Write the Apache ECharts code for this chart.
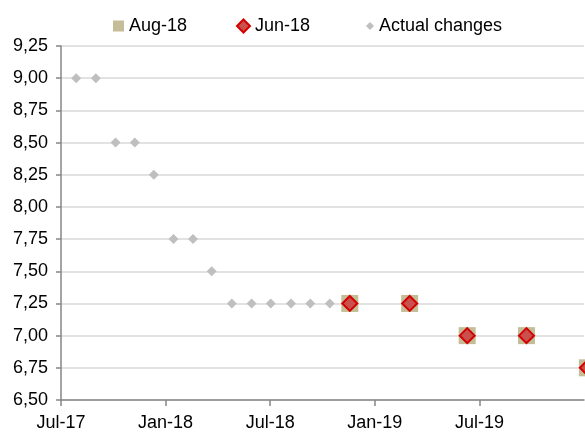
<!DOCTYPE html>
<html>
<head>
<meta charset="utf-8">
<script src="https://cdn.jsdelivr.net/npm/echarts@6/dist/echarts.min.js"></script>
<style>
  html, body { margin: 0; padding: 0; background: #fff; }
  #chart { width: 585px; height: 434px; }
</style>
</head>
<body>
<div id="chart"></div>
<script>
// actual key rate decisions
const actualDates = ['2017-07-28', '2017-09-01', '2017-10-05', '2017-11-08', '2017-12-11',
  '2018-01-15', '2018-02-17', '2018-03-21', '2018-04-25', '2018-05-30',
  '2018-07-02', '2018-08-07', '2018-09-10', '2018-10-14']
const actualValues = [9.00, 9.00, 8.50, 8.50, 8.25, 7.75, 7.75, 7.50, 7.25, 7.25, 7.25, 7.25, 7.25, 7.25]

// forecast points (both forecasts coincide)
const forecastDates = ['2018-11-18', '2019-03-01', '2019-06-10', '2019-09-22', '2020-01-07']
const aug18Values = [7.25, 7.25, 7.00, 7.00, 6.75]
const jun18Values = [7.25, 7.25, 7.00, 7.00, 6.75]

const monthNames = ['Jan', 'Feb', 'Mar', 'Apr', 'May', 'Jun', 'Jul', 'Aug', 'Sep', 'Oct', 'Nov', 'Dec']

// date string -> fractional month index (year * 12 + month)
function toMonth(s) {
  const [y, m, d] = s.split('-').map(Number)
  const days = new Date(y, m, 0).getDate()
  return y * 12 + (m - 1) + (d - 1) / days
}

function monthLabel(v) {
  const idx = Math.round(v)
  const y = Math.floor(idx / 12)
  const m = idx - y * 12
  return monthNames[m] + '-' + String(y % 100).padStart(2, '0')
}

const pairs = (dates, vals) => dates.map((d, i) => [toMonth(d), vals[i]])

const font = 'Liberation Sans, Arial, sans-serif'
const chart = echarts.init(document.getElementById('chart'))

chart.setOption({
  animation: false,
  textStyle: { fontFamily: font },
  legend: [
    {
      data: ['Aug-18'], left: 113, top: 17, padding: 0, icon: 'rect',
      itemWidth: 11, itemHeight: 11, textStyle: { fontSize: 18, color: '#000' }
    },
    {
      data: ['Jun-18'], left: 236, top: 17, padding: 0, icon: 'diamond',
      itemWidth: 13, itemHeight: 13, textStyle: { fontSize: 18, color: '#000' }
    },
    {
      data: ['Actual changes'], left: 366, top: 17, padding: 0, icon: 'diamond',
      itemWidth: 8, itemHeight: 8, textStyle: { fontSize: 18, color: '#000' }
    }
  ],
  grid: { left: 61, right: 1, top: 46, bottom: 34 },
  xAxis: {
    type: 'value',
    min: 2017 * 12 + 6,
    max: 2020 * 12,
    interval: 6,
    axisLine: { lineStyle: { color: '#868686', width: 1.5 } },
    axisTick: { length: 6, lineStyle: { color: '#868686', width: 1.5 } },
    axisLabel: {
      fontSize: 18, color: '#000', margin: 14, showMaxLabel: false,
      formatter: monthLabel
    },
    splitLine: { show: false }
  },
  yAxis: {
    type: 'value',
    min: 6.5,
    max: 9.25,
    interval: 0.25,
    axisLine: { show: true, lineStyle: { color: '#868686', width: 1.5 } },
    axisTick: { show: true, length: 5, lineStyle: { color: '#868686', width: 1.5 } },
    axisLabel: {
      fontSize: 18, color: '#000', margin: 13,
      formatter: v => v.toFixed(2).replace('.', ',')
    },
    splitLine: { lineStyle: { color: '#d9d9d9', width: 1.5 } }
  },
  series: [
    {
      name: 'Aug-18', type: 'scatter', clip: false,
      symbol: 'rect', symbolSize: 17,
      itemStyle: { color: '#c4bd97', opacity: 1 },
      data: pairs(forecastDates, aug18Values)
    },
    {
      name: 'Jun-18', type: 'scatter', clip: false,
      symbol: 'diamond', symbolSize: 15,
      itemStyle: { color: '#c9504d', borderColor: '#d40000', borderWidth: 2, opacity: 1 },
      data: pairs(forecastDates, jun18Values)
    },
    {
      name: 'Actual changes', type: 'scatter', clip: false,
      symbol: 'diamond', symbolSize: 10,
      itemStyle: { color: '#bfbfbf', opacity: 1 },
      data: pairs(actualDates, actualValues)
    }
  ]
})
</script>
</body>
</html>
